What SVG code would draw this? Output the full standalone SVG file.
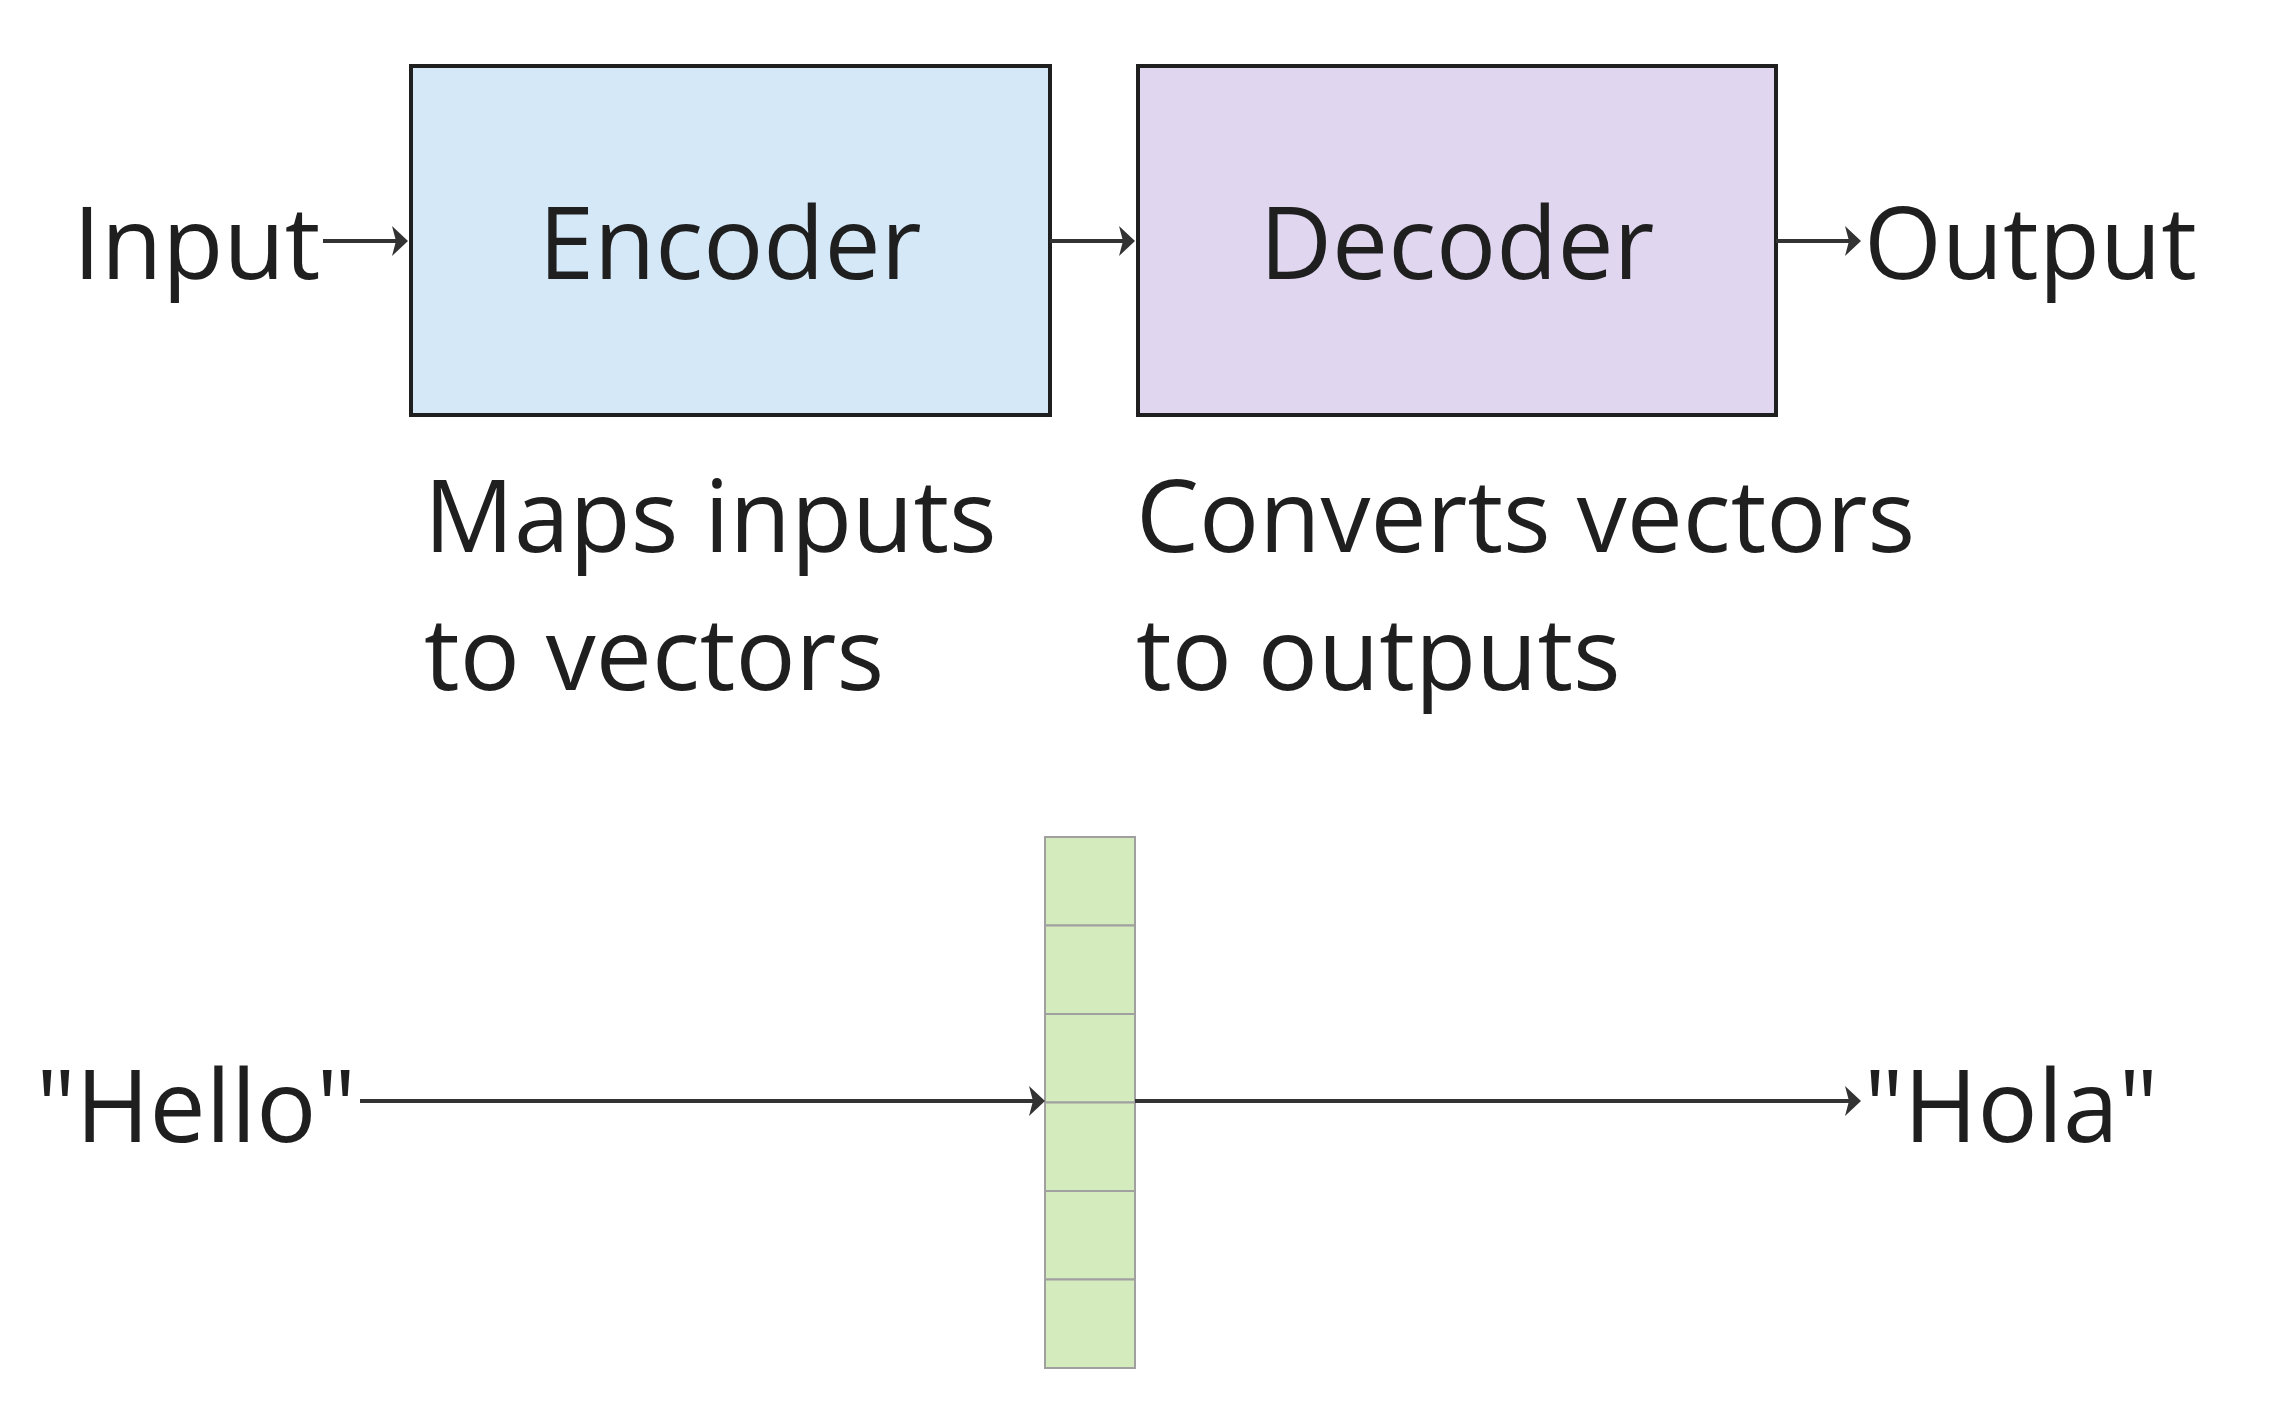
<svg xmlns="http://www.w3.org/2000/svg" width="2276" height="1406" viewBox="0 0 2276 1406">
<style>
text{font-family:"Open Sans","Noto Sans",sans-serif;font-size:100px;fill:#1f1f1f}
.c{stroke:#333;stroke-width:4;fill:none}
.cell{fill:#d3ebbd;stroke:#a0a0a0;stroke-width:2}
</style>
<defs><marker id="a" viewBox="0 0 10 10" refX="9" refY="5" markerWidth="6" markerHeight="6" markerUnits="userSpaceOnUse" orient="auto" overflow="visible"><path d="M-3,-6 L9,5 L-3,16 L0,5 Z" fill="#333" transform="scale(1)"/></marker></defs>
<rect width="2276" height="1406" fill="#fff"/>
<g id="input"><text x="73" y="279">Input</text></g>
<g id="encoder"><rect x="411" y="66" width="639" height="349" fill="#d5e8f8" stroke="#1f1f1f" stroke-width="4"/><text x="730" y="279" text-anchor="middle">Encoder</text></g>
<g id="decoder"><rect x="1138" y="66" width="638" height="349" fill="#e0d6f0" stroke="#1f1f1f" stroke-width="4"/><text x="1457" y="279" text-anchor="middle">Decoder</text></g>
<g id="output"><text x="1864" y="279">Output</text></g>
<g id="enc-note"><text x="424" y="552">Maps inputs</text><text x="424" y="690">to vectors</text></g>
<g id="dec-note"><text x="1136" y="552">Converts vectors</text><text x="1136" y="690">to outputs</text></g>
<g id="hello"><text x="36" y="1142">"Hello"</text></g>
<g id="hola"><text x="1864" y="1142">"Hola"</text></g>
<g id="vector">
<rect class="cell" x="1045" y="837" width="90" height="88.5"/>
<rect class="cell" x="1045" y="925.5" width="90" height="88.5"/>
<rect class="cell" x="1045" y="1014" width="90" height="88.5"/>
<rect class="cell" x="1045" y="1102.5" width="90" height="88.5"/>
<rect class="cell" x="1045" y="1191" width="90" height="88.5"/>
<rect class="cell" x="1045" y="1279.5" width="90" height="88.5"/>
</g>
<g id="connectors">
<path class="c" d="M323,241 H406"/><path d="M392,226 L408,241 L392,256 L396,241 Z" fill="#333"/>
<path class="c" d="M1050,241 H1133"/><path d="M1119,226 L1135,241 L1119,256 L1123,241 Z" fill="#333"/>
<path class="c" d="M1776,241 H1859"/><path d="M1845,226 L1861,241 L1845,256 L1849,241 Z" fill="#333"/>
<path class="c" d="M360,1101 H1043"/><path d="M1029,1086 L1045,1101 L1029,1116 L1033,1101 Z" fill="#333"/>
<path class="c" d="M1135,1101 H1859"/><path d="M1845,1086 L1861,1101 L1845,1116 L1849,1101 Z" fill="#333"/>
</g>
</svg>
